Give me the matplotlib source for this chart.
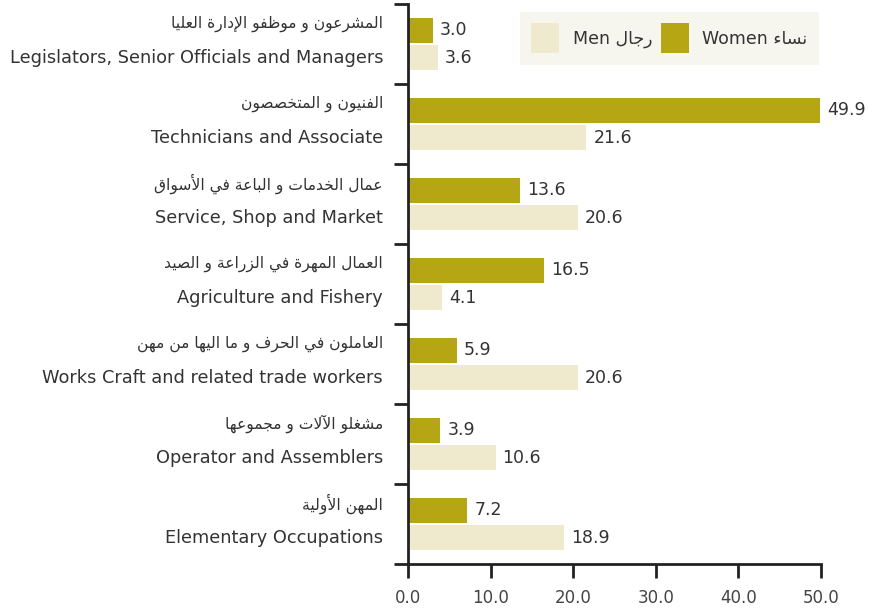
import matplotlib
matplotlib.use("Agg")
import matplotlib.pyplot as plt
from matplotlib.patches import Patch

# ---------------- data ----------------
labels_ar = [
    "المشرعون و موظفو الإدارة العليا",
    "الفنيون و المتخصصون",
    "عمال الخدمات و الباعة في الأسواق",
    "العمال المهرة في الزراعة و الصيد",
    "العاملون في الحرف و ما اليها من مهن",
    "مشغلو الآلات و مجموعها",
    "المهن الأولية",
]
labels_en = [
    "Legislators, Senior Officials and Managers",
    "Technicians and Associate",
    "Service, Shop and Market",
    "Agriculture and Fishery",
    "Works Craft and related trade workers",
    "Operator and Assemblers",
    "Elementary Occupations",
]
women = [3.0, 49.9, 13.6, 16.5, 5.9, 3.9, 7.2]
men = [3.6, 21.6, 20.6, 4.1, 20.6, 10.6, 18.9]
xticks = [0, 10, 20, 30, 40, 50]
legend_women = ("Women", "نساء")
legend_men = ("Men", "رجال")

# ---------------- minimal Arabic shaping ----------------
FORMS = {
    '\u0621': ('\uFE80', None, None, None),
    '\u0622': ('\uFE81', '\uFE82', None, None),
    '\u0623': ('\uFE83', '\uFE84', None, None),
    '\u0625': ('\uFE87', '\uFE88', None, None),
    '\u0627': ('\uFE8D', '\uFE8E', None, None),
    '\u0628': ('\uFE8F', '\uFE90', '\uFE91', '\uFE92'),
    '\u0629': ('\uFE93', '\uFE94', None, None),
    '\u062A': ('\uFE95', '\uFE96', '\uFE97', '\uFE98'),
    '\u062C': ('\uFE9D', '\uFE9E', '\uFE9F', '\uFEA0'),
    '\u062D': ('\uFEA1', '\uFEA2', '\uFEA3', '\uFEA4'),
    '\u062E': ('\uFEA5', '\uFEA6', '\uFEA7', '\uFEA8'),
    '\u062F': ('\uFEA9', '\uFEAA', None, None),
    '\u0631': ('\uFEAD', '\uFEAE', None, None),
    '\u0632': ('\uFEAF', '\uFEB0', None, None),
    '\u0633': ('\uFEB1', '\uFEB2', '\uFEB3', '\uFEB4'),
    '\u0634': ('\uFEB5', '\uFEB6', '\uFEB7', '\uFEB8'),
    '\u0635': ('\uFEB9', '\uFEBA', '\uFEBB', '\uFEBC'),
    '\u0638': ('\uFEC5', '\uFEC6', '\uFEC7', '\uFEC8'),
    '\u0639': ('\uFEC9', '\uFECA', '\uFECB', '\uFECC'),
    '\u063A': ('\uFECD', '\uFECE', '\uFECF', '\uFED0'),
    '\u0641': ('\uFED1', '\uFED2', '\uFED3', '\uFED4'),
    '\u0642': ('\uFED5', '\uFED6', '\uFED7', '\uFED8'),
    '\u0644': ('\uFEDD', '\uFEDE', '\uFEDF', '\uFEE0'),
    '\u0645': ('\uFEE1', '\uFEE2', '\uFEE3', '\uFEE4'),
    '\u0646': ('\uFEE5', '\uFEE6', '\uFEE7', '\uFEE8'),
    '\u0647': ('\uFEE9', '\uFEEA', '\uFEEB', '\uFEEC'),
    '\u0648': ('\uFEED', '\uFEEE', None, None),
    '\u064A': ('\uFEF1', '\uFEF2', '\uFEF3', '\uFEF4'),
}
LAMALEF = {
    '\u0622': ('\uFEF5', '\uFEF6'),
    '\u0623': ('\uFEF7', '\uFEF8'),
    '\u0625': ('\uFEF9', '\uFEFA'),
    '\u0627': ('\uFEFB', '\uFEFC'),
}


def _dual(c):
    return c in FORMS and FORMS[c][2] is not None


def _joins(c):
    return c in FORMS and FORMS[c][1] is not None


def shape(s):
    chars = list(s)
    n = len(chars)
    out = []
    i = 0
    while i < n:
        c = chars[i]
        prev = chars[i - 1] if i > 0 else None
        if c == '\u0644' and i + 1 < n and chars[i + 1] in LAMALEF:
            iso, fin = LAMALEF[chars[i + 1]]
            out.append(fin if (prev is not None and _dual(prev)) else iso)
            i += 2
            continue
        if c not in FORMS:
            out.append(c)
            i += 1
            continue
        nxt = chars[i + 1] if i + 1 < n else None
        cp = prev is not None and _dual(prev) and _joins(c)
        cn = _dual(c) and nxt is not None and _joins(nxt)
        iso, fin, ini, med = FORMS[c]
        if cp and cn:
            out.append(med)
        elif cp:
            out.append(fin)
        elif cn:
            out.append(ini)
        else:
            out.append(iso)
        i += 1
    return ''.join(reversed(out))


# ---------------- style ----------------
C_WOMEN = "#b7a614"
C_MEN = "#efe9cd"
TXT = "#333333"
AX = "#222222"
plt.rcParams['font.family'] = ["DejaVu Sans"]

fig = plt.figure(figsize=(8.69, 6.11), dpi=100)
ax = fig.add_axes([408 / 869, 1 - 564 / 611, (821 - 408) / 869, (564 - 4) / 611])

n = len(women)
ys = list(range(n))
h = 0.3125
off = 0.169
wy = [y - off for y in ys]
my = [y + off for y in ys]
ax.barh(wy, women, height=h, color=C_WOMEN, zorder=2)
ax.barh(my, men, height=h, color=C_MEN, zorder=2)

ax.set_xlim(0, 50)
ax.set_ylim(n - 0.5, -0.5)

for y, v in zip(wy, women):
    ax.annotate(f"{v:.1f}", (v, y), xytext=(7, 0), textcoords="offset pixels",
                ha="left", va="center", fontsize=12.5, color=TXT, annotation_clip=False)
for y, v in zip(my, men):
    ax.annotate(f"{v:.1f}", (v, y), xytext=(7, 0), textcoords="offset pixels",
                ha="left", va="center", fontsize=12.5, color=TXT, annotation_clip=False)

for y, a, e in zip(ys, labels_ar, labels_en):
    ax.annotate(shape(a), (0, y - off - 0.08), xytext=(-25, 0), textcoords="offset pixels",
                ha="right", va="center", fontsize=11.2, color=TXT, annotation_clip=False)
    ax.annotate(e, (0, y + off), xytext=(-25, 0), textcoords="offset pixels",
                ha="right", va="center", fontsize=12.8, color=TXT, annotation_clip=False)

ax.set_yticks([y - 0.5 for y in range(n + 1)])
ax.set_yticklabels([])
ax.set_xticks(xticks)
ax.set_xticklabels([f"{t:.1f}" for t in xticks], fontsize=12, color="#444444")
ax.tick_params(axis="y", length=10, width=2, color=AX, direction="out")
ax.tick_params(axis="x", length=10, width=2, color=AX, direction="out", pad=8)
for s in ["top", "right"]:
    ax.spines[s].set_visible(False)
for s in ["left", "bottom"]:
    ax.spines[s].set_linewidth(2)
    ax.spines[s].set_color(AX)
ax.spines["bottom"].set_bounds(0, 50)

handles = [Patch(facecolor=C_MEN, edgecolor="none"), Patch(facecolor=C_WOMEN, edgecolor="none")]
leg_labels = [legend_men[0] + " " + shape(legend_men[1]),
              legend_women[0] + " " + shape(legend_women[1])]
leg = ax.legend(handles, leg_labels, ncol=2, loc="upper right",
                bbox_to_anchor=(0.995, 0.986), borderaxespad=0, frameon=True,
                facecolor="#f7f6ee", edgecolor="none", fancybox=False, fontsize=12.5,
                handlelength=1.6, handleheight=2.3, handletextpad=0.8, columnspacing=0.5,
                borderpad=0.65, labelcolor=TXT)
leg.get_frame().set_alpha(1)

fig.savefig("out.png", dpi=100)
